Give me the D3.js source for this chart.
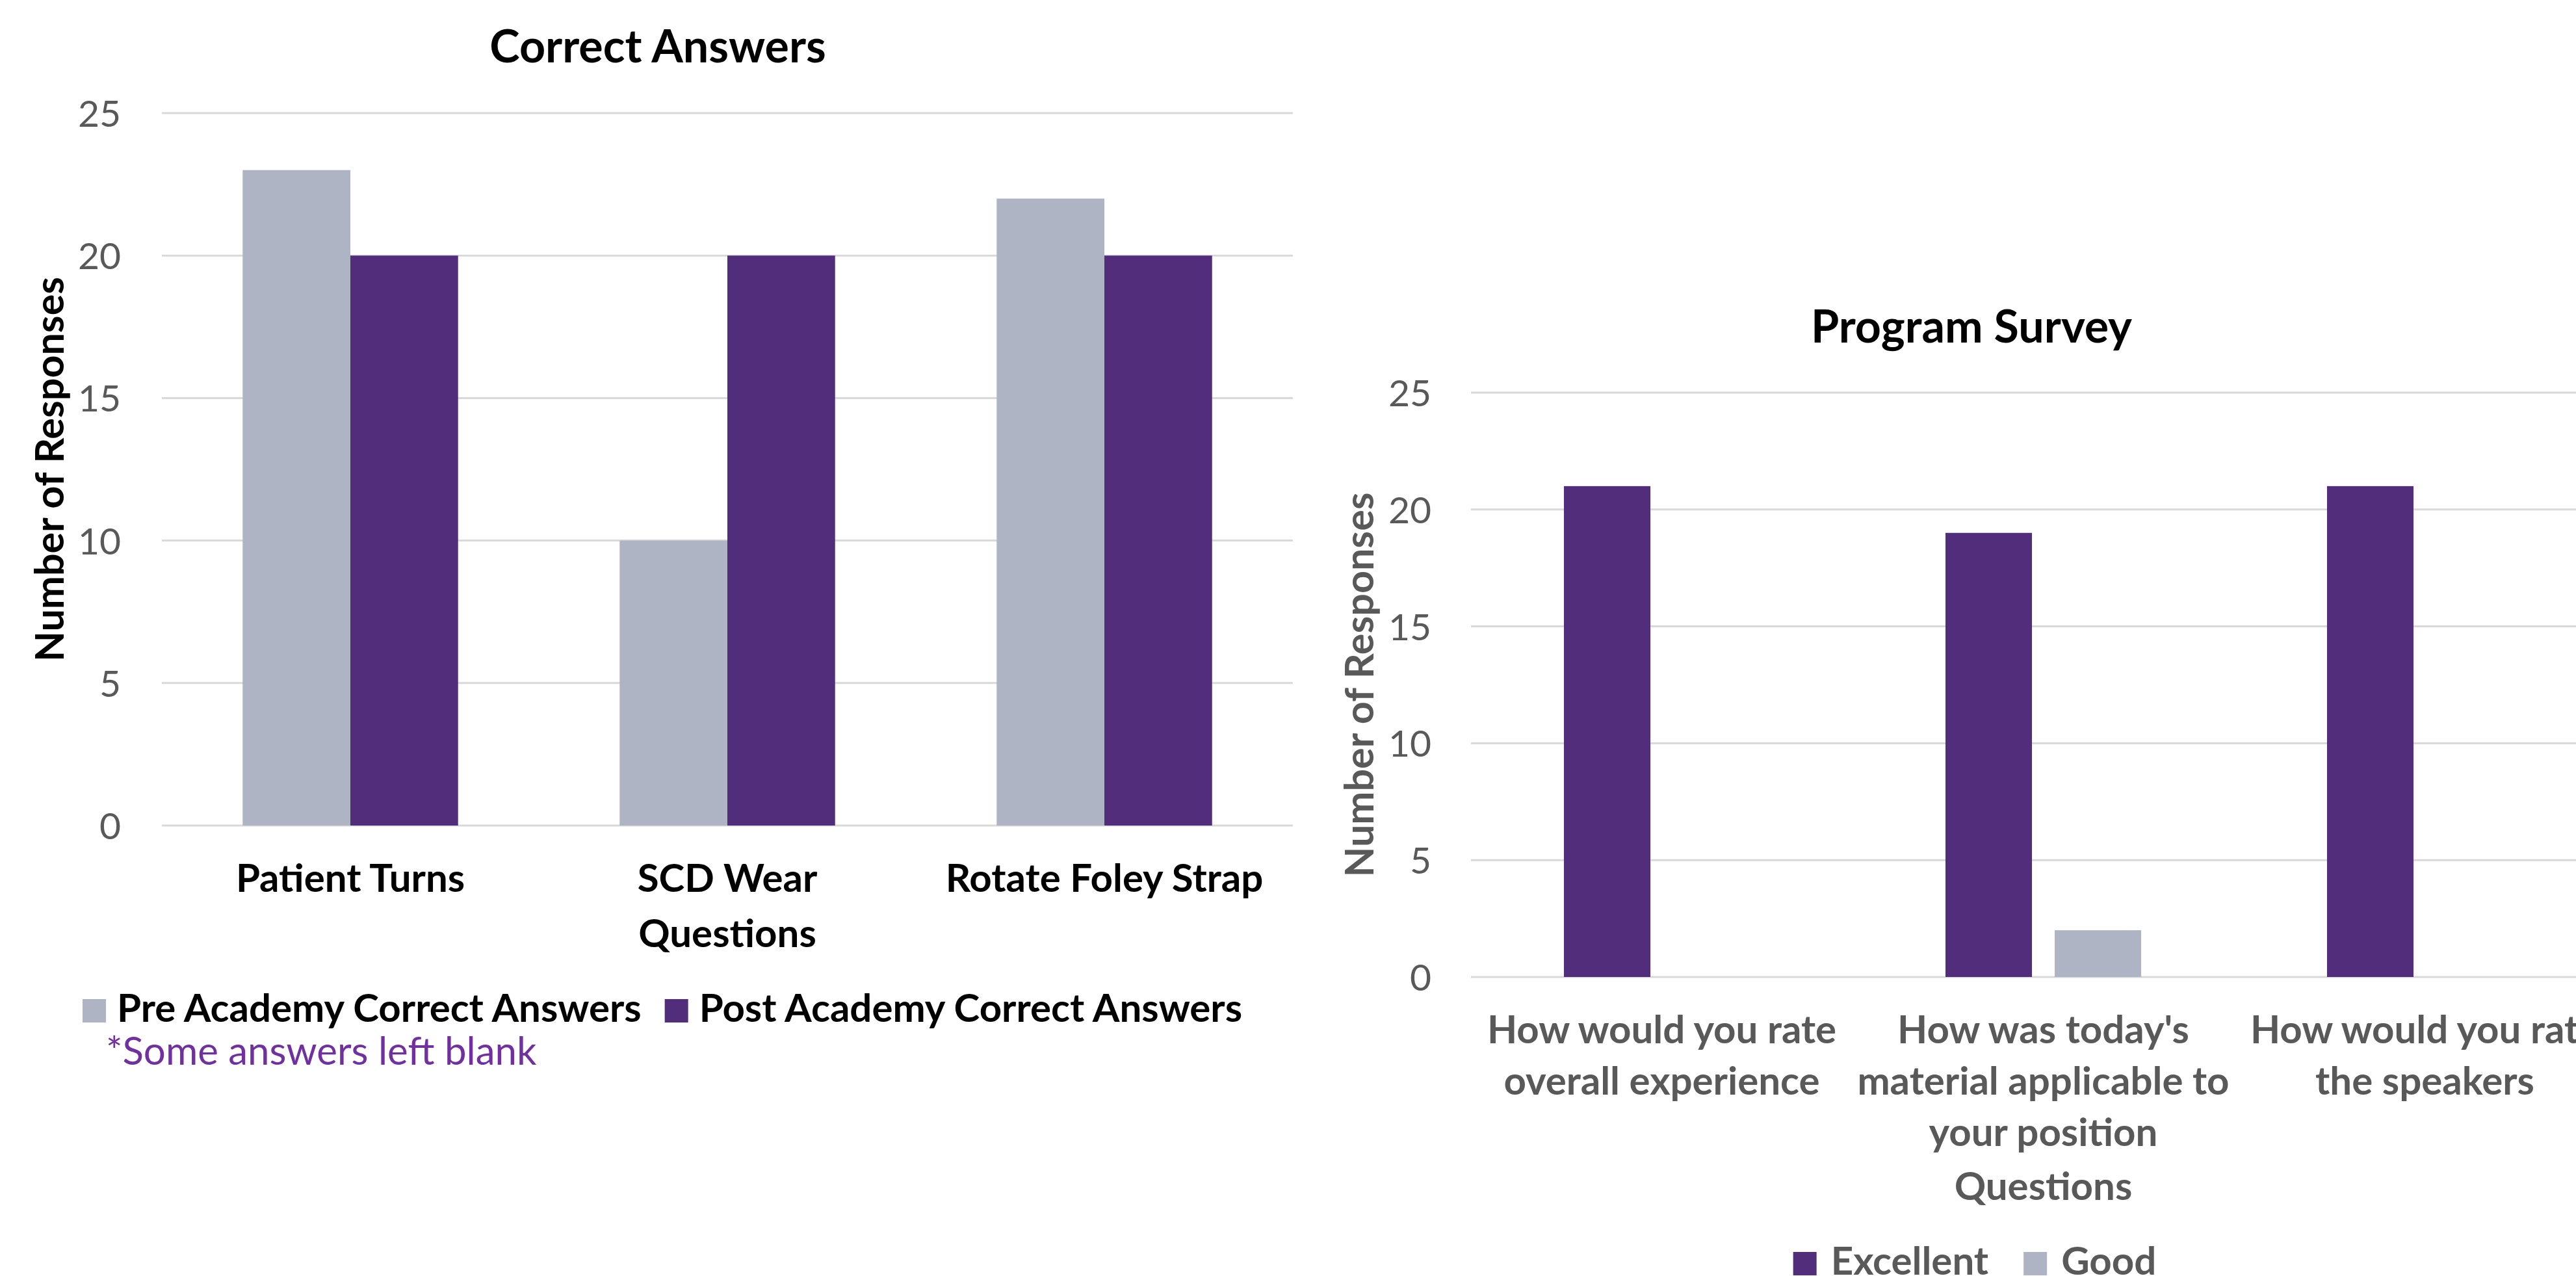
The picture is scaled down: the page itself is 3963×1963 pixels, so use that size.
<!DOCTYPE html>
<html>
<head>
<meta charset="utf-8">
<script src="https://cdn.jsdelivr.net/npm/d3@7"></script>
<style>
  body { margin: 0; background: #ffffff; }
  svg text { font-family: Lato, "Open Sans", sans-serif; }
</style>
</head>
<body>
<svg id="chart" width="3963" height="1963"></svg>
<script>
// ---------------- DATA ----------------
const quizCategories = ["Patient Turns", "SCD Wear", "Rotate Foley Strap"];
const quizLabelLines = [["Patient Turns"], ["SCD Wear"], ["Rotate Foley Strap"]];
const quizSeries = ["Pre Academy Correct Answers", "Post Academy Correct Answers"];
const preAcademyValues = [23, 10, 22];
const postAcademyValues = [20, 20, 20];

const surveyCategories = [
  "How would you rate overall experience",
  "How was today's material applicable to your position",
  "How would you rate the speakers"
];
const surveyLabelLines = [
  ["How would you rate", "overall experience"],
  ["How was today's", "material applicable to", "your position"],
  ["How would you rate", "the speakers"]
];
const surveySeries = ["Excellent", "Good"];
const excellentValues = [21, 19, 21];
const goodValues = [0, 2, 0];

const yTickValues = [0, 5, 10, 15, 20, 25];

// ---------------- STYLE ----------------
const PURPLE = "#512D7C";
const GREY = "#AEB4C4";
const TXT_GREY = "#595959";
const GRID = "#D9D9D9";

const svg = d3.select("#chart");
svg.append("rect").attr("width", 3963).attr("height", 1963).attr("fill", "#fff");

function drawChart(cfg) {
  const g = svg.append("g");
  const y = d3.scaleLinear().domain([0, 25]).range([cfg.plotBottom, cfg.plotTop]);
  const x0 = d3.scaleBand().domain(cfg.categories).range([cfg.plotLeft, cfg.plotRight]).padding(0);
  const x1 = d3.scaleBand().domain(cfg.series).range([0, x0.bandwidth()])
    .paddingInner(cfg.padInner).paddingOuter(cfg.padOuter);

  // gridlines
  g.append("g").selectAll("line").data(yTickValues).join("line")
    .attr("x1", cfg.plotLeft).attr("x2", cfg.plotRight)
    .attr("y1", d => y(d)).attr("y2", d => y(d))
    .attr("stroke", GRID).attr("stroke-width", 3);

  // y axis tick labels
  const yAxis = d3.axisLeft(y).tickValues(yTickValues).tickSize(0).tickPadding(cfg.tickPad);
  const ya = g.append("g").attr("transform", `translate(${cfg.plotLeft},0)`).call(yAxis);
  ya.select(".domain").remove();
  ya.selectAll("text").attr("font-size", 57).attr("fill", TXT_GREY)
    .attr("font-family", "Lato, sans-serif").attr("dy", "0.36em");

  // bars
  const rows = cfg.categories.map((c, i) => ({ cat: c, vals: cfg.series.map((s, j) => ({ s, v: cfg.values[j][i], j })) }));
  const grp = g.append("g").selectAll("g").data(rows).join("g")
    .attr("transform", d => `translate(${x0(d.cat)},0)`);
  grp.selectAll("rect").data(d => d.vals.filter(v => v.v > 0)).join("rect")
    .attr("x", d => x1(d.s)).attr("width", x1.bandwidth())
    .attr("y", d => y(d.v)).attr("height", d => y(0) - y(d.v))
    .attr("fill", d => cfg.colors[d.j]);

  // category labels
  const cl = g.append("g").selectAll("text").data(cfg.categories).join("text")
    .attr("text-anchor", "middle").attr("font-size", 60).attr("font-weight", 700)
    .attr("fill", cfg.labelColor);
  cl.each(function (c, i) {
    const t = d3.select(this);
    cfg.labelLines[i].forEach((line, k) => {
      t.append("tspan").attr("x", x0(c) + x0.bandwidth() / 2)
        .attr("y", cfg.plotBottom + cfg.labelOffset + k * cfg.lineGap).text(line);
    });
  });

  // x axis title
  g.append("text").attr("x", (cfg.plotLeft + cfg.plotRight) / 2).attr("y", cfg.xTitleY)
    .attr("text-anchor", "middle").attr("font-size", 60).attr("font-weight", 700)
    .attr("fill", cfg.labelColor).text("Questions");

  // y axis title
  g.append("text")
    .attr("transform", `translate(${cfg.yTitleX},${(cfg.plotTop + cfg.plotBottom) / 2}) rotate(-90)`)
    .attr("text-anchor", "middle").attr("font-size", 61).attr("font-weight", 700)
    .attr("fill", cfg.labelColor).text("Number of Responses");

  // chart title
  g.append("text").attr("x", cfg.titleX).attr("y", cfg.titleY)
    .attr("text-anchor", "middle").attr("font-size", 70).attr("font-weight", 700)
    .attr("fill", "#000").text(cfg.title);

  // legend
  const lg = g.append("g");
  const items = cfg.series.map((s, j) => {
    const it = lg.append("g");
    it.append("rect").attr("width", 36).attr("height", 36).attr("y", -36).attr("fill", cfg.colors[j]);
    const t = it.append("text").attr("x", 36 + cfg.legSwatchGap).attr("y", -1)
      .attr("font-size", 60).attr("font-weight", 700).attr("fill", cfg.labelColor).text(s);
    return { it, w: 36 + cfg.legSwatchGap + t.node().getComputedTextLength() };
  });
  const total = d3.sum(items, d => d.w) + cfg.legItemGap * (items.length - 1);
  let cx = cfg.legCenter - total / 2;
  items.forEach(d => {
    d.it.attr("transform", `translate(${cx},${cfg.legBottom})`);
    cx += d.w + cfg.legItemGap;
  });
  return { g, lgStart: cfg.legCenter - total / 2 };
}

const left = drawChart({
  categories: quizCategories, labelLines: quizLabelLines, series: quizSeries,
  values: [preAcademyValues, postAcademyValues], colors: [GREY, PURPLE],
  plotLeft: 249, plotRight: 1989, plotTop: 174, plotBottom: 1270,
  padInner: 0, padOuter: 0.75, tickPad: 63,
  labelOffset: 102, lineGap: 80, xTitleY: 1457,
  yTitleX: 98, titleX: 1012, titleY: 96, title: "Correct Answers",
  labelColor: "#000", legCenter: 1019, legBottom: 1573, legSwatchGap: 17, legItemGap: 36
});

// note below the left legend
svg.append("text").attr("x", 163).attr("y", 1638)
  .attr("font-size", 60).attr("fill", "#7030A0").text("*Some answers left blank");

drawChart({
  categories: surveyCategories, labelLines: surveyLabelLines, series: surveySeries,
  values: [excellentValues, goodValues], colors: [PURPLE, GREY],
  plotLeft: 2263, plotRight: 4024, plotTop: 604, plotBottom: 1503,
  padInner: 0.208, padOuter: 0.851, tickPad: 61,
  labelOffset: 102, lineGap: 79, xTitleY: 1846,
  yTitleX: 2113, titleX: 3033, titleY: 527, title: "Program Survey",
  labelColor: TXT_GREY, legCenter: 3038, legBottom: 1962, legSwatchGap: 22, legItemGap: 54
});
</script>
</body>
</html>
